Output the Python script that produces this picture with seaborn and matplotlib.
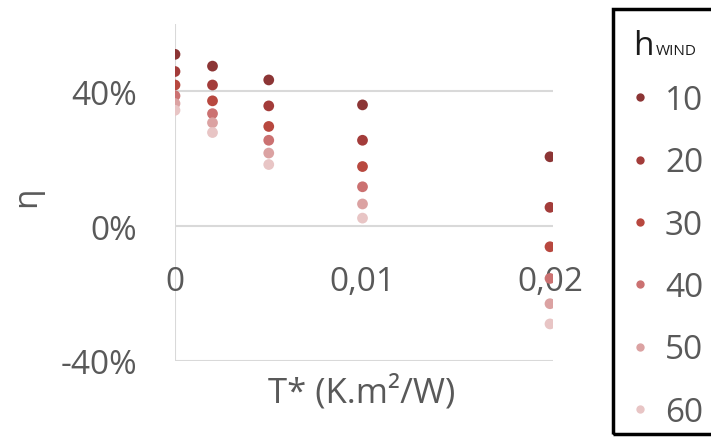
import matplotlib
matplotlib.use("Agg")
import matplotlib.pyplot as plt
from matplotlib.lines import Line2D
from matplotlib.patches import Rectangle
import pandas as pd
import seaborn as sns

# ----------------------------------------------------------
# Données
# ----------------------------------------------------------

t_star = [0, 0.002, 0.005, 0.01, 0.02]
h_wind = [10, 20, 30, 40, 50, 60]

eta_10 = [0.510, 0.475, 0.434, 0.360, 0.206]
eta_20 = [0.459, 0.419, 0.357, 0.255, 0.056]
eta_30 = [0.419, 0.372, 0.296, 0.177, -0.061]
eta_40 = [0.387, 0.334, 0.255, 0.117, -0.155]
eta_50 = [0.364, 0.307, 0.217, 0.066, -0.230]
eta_60 = [0.344, 0.278, 0.183, 0.024, -0.290]

colors = ["#8C3535", "#A33C3A", "#B8483F", "#CB7171", "#DBA2A2", "#E8C5C5"]

x_ticks = [0, 0.01, 0.02]
x_labels = ["0", "0,01", "0,02"]
y_ticks = [-0.4, 0, 0.4]
y_labels = ["-40%", "0%", "40%"]

rows = []
for h, vals in zip(h_wind, [eta_10, eta_20, eta_30, eta_40, eta_50, eta_60]):
    for t, v in zip(t_star, vals):
        rows.append({"t_star": t, "eta": v, "h_wind": h})
df = pd.DataFrame(rows)

# ----------------------------------------------------------
# Figure
# ----------------------------------------------------------

sns.set_style("white")
plt.rcParams["font.family"] = ["Open Sans", "DejaVu Sans"]

text_col = "#595959"
grid_col = "#D9D9D9"
fs = 24

fig = plt.figure(figsize=(7.11, 4.39), dpi=100)
ax = fig.add_axes([175 / 711, 1 - 362 / 439, 378 / 711, 337 / 439])

for y in y_ticks:
    ax.axhline(y, color=grid_col, lw=1.5, zorder=0)
ax.axvline(0, color=grid_col, lw=1.5, zorder=0)

sns.scatterplot(
    data=df, x="t_star", y="eta", hue="h_wind",
    palette=colors, s=60, linewidth=0, legend=False, ax=ax, zorder=5
)

ax.set_xlim(0, 0.02 * 378 / 375)
ax.set_ylim(-0.4, 0.6)
for s in ax.spines.values():
    s.set_visible(False)

ax.set_yticks(y_ticks)
ax.set_yticklabels(y_labels)
ax.set_xticks([])
ax.tick_params(axis="y", length=0, pad=27, labelsize=fs, labelcolor=text_col)
ax.set_xlabel("")
ax.set_ylabel("")

# étiquettes de l'axe x placées sous l'axe à 0
for t, lab in zip(x_ticks, x_labels):
    ax.text(t, -0.115, lab, ha="center", va="top",
            fontsize=fs, color=text_col, zorder=1)

fig.text(362 / 711, 1 - 393 / 439, "T* (K.m²/W)", ha="center", va="center",
         fontsize=25, color=text_col)
fig.text(27 / 711, 1 - 197 / 439, "η", ha="center", va="center",
         rotation=90, fontsize=fs, color=text_col)

# ----------------------------------------------------------
# Légende (cadre et titre dessinés à part)
# ----------------------------------------------------------

fig.patches.append(Rectangle(
    (613 / 711, 1 - 435 / 439), 120 / 711, 425 / 439,
    transform=fig.transFigure, fill=False, edgecolor="black", lw=2.5
))
fig.text(633 / 711, 1 - 55 / 439, "h", ha="left", va="baseline",
         fontsize=fs, color="#1A1A1A")
fig.text(656 / 711, 1 - 55 / 439, "WIND", ha="left", va="baseline",
         fontsize=11, color="#1A1A1A")

handles = [Line2D([], [], marker="o", ls="", color=c, markersize=6,
                  markeredgewidth=0) for c in colors]
leg = ax.legend(
    handles, [str(h) for h in h_wind],
    loc="upper left", bbox_to_anchor=(632 / 711, 1 - 85 / 439),
    bbox_transform=fig.transFigure, frameon=False,
    fontsize=fs, labelspacing=0.88,
    handlelength=0.5, handletextpad=0.49, borderpad=0,
    borderaxespad=0,
)
for t in leg.get_texts():
    t.set_color(text_col)

fig.savefig("out.png", dpi=100)
